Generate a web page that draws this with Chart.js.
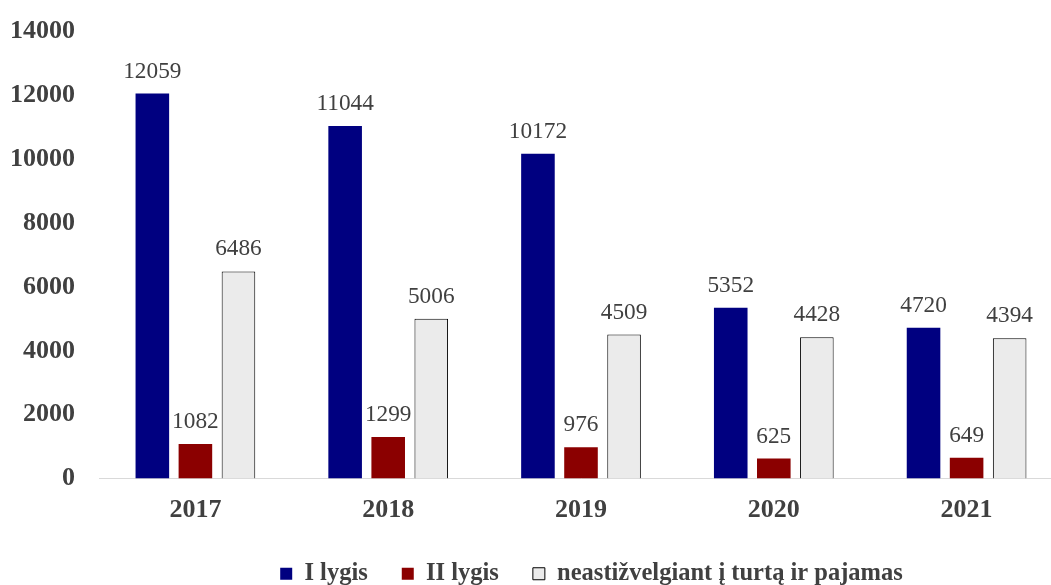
<!DOCTYPE html>
<html>
<head>
<meta charset="utf-8">
<script src="https://cdn.jsdelivr.net/npm/chart.js@4"></script>
<style>
  html, body { margin: 0; padding: 0; overflow: hidden; background: #fff; width: 1051px; height: 585px; }
  #wrap { width: 1064px; height: 596px; position: absolute; left: 0; top: 0; }
</style>
</head>
<body>
<div id="wrap"><canvas id="c"></canvas></div>
<script>
const categories = ['2017', '2018', '2019', '2020', '2021'];
const levelI = [12059, 11044, 10172, 5352, 4720];
const levelII = [1082, 1299, 976, 625, 649];
const regardless = [6486, 5006, 4509, 4428, 4394];
const seriesNames = ['I lygis', 'II lygis', 'neastižvelgiant į turtą ir pajamas'];
const yTicks = [0, 2000, 4000, 6000, 8000, 10000, 12000, 14000];

const FONT = '"Times New Roman", "Liberation Serif", serif';

const labelPlugin = {
  id: 'barLabels',
  afterDatasetsDraw(chart) {
    const ctx = chart.ctx;
    ctx.save();
    ctx.font = '23.3px ' + FONT;
    ctx.fillStyle = '#404040';
    ctx.textAlign = 'center';
    ctx.textBaseline = 'alphabetic';
    chart.data.datasets.forEach((ds, i) => {
      const meta = chart.getDatasetMeta(i);
      meta.data.forEach((bar, j) => {
        ctx.fillText(String(ds.data[j]), bar.x, bar.y - 16);
      });
    });
    ctx.restore();
  }
};

// shift the legend block so it is centred where the original places it
const legendShift = {
  id: 'legendShift',
  afterLayout(chart) {
    if (chart.legend) {
      chart.legend.left += 60;
      chart.legend.right += 60;
    }
  }
};

new Chart(document.getElementById('c'), {
  type: 'bar',
  data: {
    labels: categories,
    datasets: [
      { label: seriesNames[0], data: levelI, backgroundColor: '#000080', borderColor: '#000080', borderWidth: 0 },
      { label: seriesNames[1], data: levelII, backgroundColor: '#8B0000', borderColor: '#8B0000', borderWidth: 0 },
      { label: seriesNames[2], data: regardless, backgroundColor: '#EBEBEB', borderColor: '#000000', borderWidth: 1 }
    ]
  },
  options: {
    responsive: true,
    maintainAspectRatio: false,
    animation: false,
    layout: { padding: { top: 1, right: 1, bottom: 0, left: 0 } },
    datasets: { bar: { categoryPercentage: 0.67, barPercentage: 0.78 } },
    scales: {
      x: {
        grid: { display: false },
        border: { display: true, color: '#d9d9d9', width: 1 },
        afterFit(scale) { scale.height = 49; },
        ticks: { color: '#404040', font: { family: FONT, size: 26, weight: 'bold' }, padding: 8 }
      },
      y: {
        min: 0, max: 14000,
        afterBuildTicks(scale) { scale.ticks = yTicks.map(v => ({ value: v })); },
        afterFit(scale) { scale.width = 99; },
        grid: { display: false },
        border: { display: false },
        ticks: {
          color: '#404040', font: { family: FONT, size: 26, weight: 'bold' }, padding: 16,
          callback: (v) => String(v)
        }
      }
    },
    plugins: {
      tooltip: { enabled: false },
      legend: {
        position: 'bottom',
        labels: {
          boxWidth: 12, boxHeight: 12, padding: 34,
          color: '#404040',
          font: { family: FONT, size: 24.5, weight: 'bold' }
        }
      }
    }
  },
  plugins: [labelPlugin, legendShift]
});
</script>
</body>
</html>
